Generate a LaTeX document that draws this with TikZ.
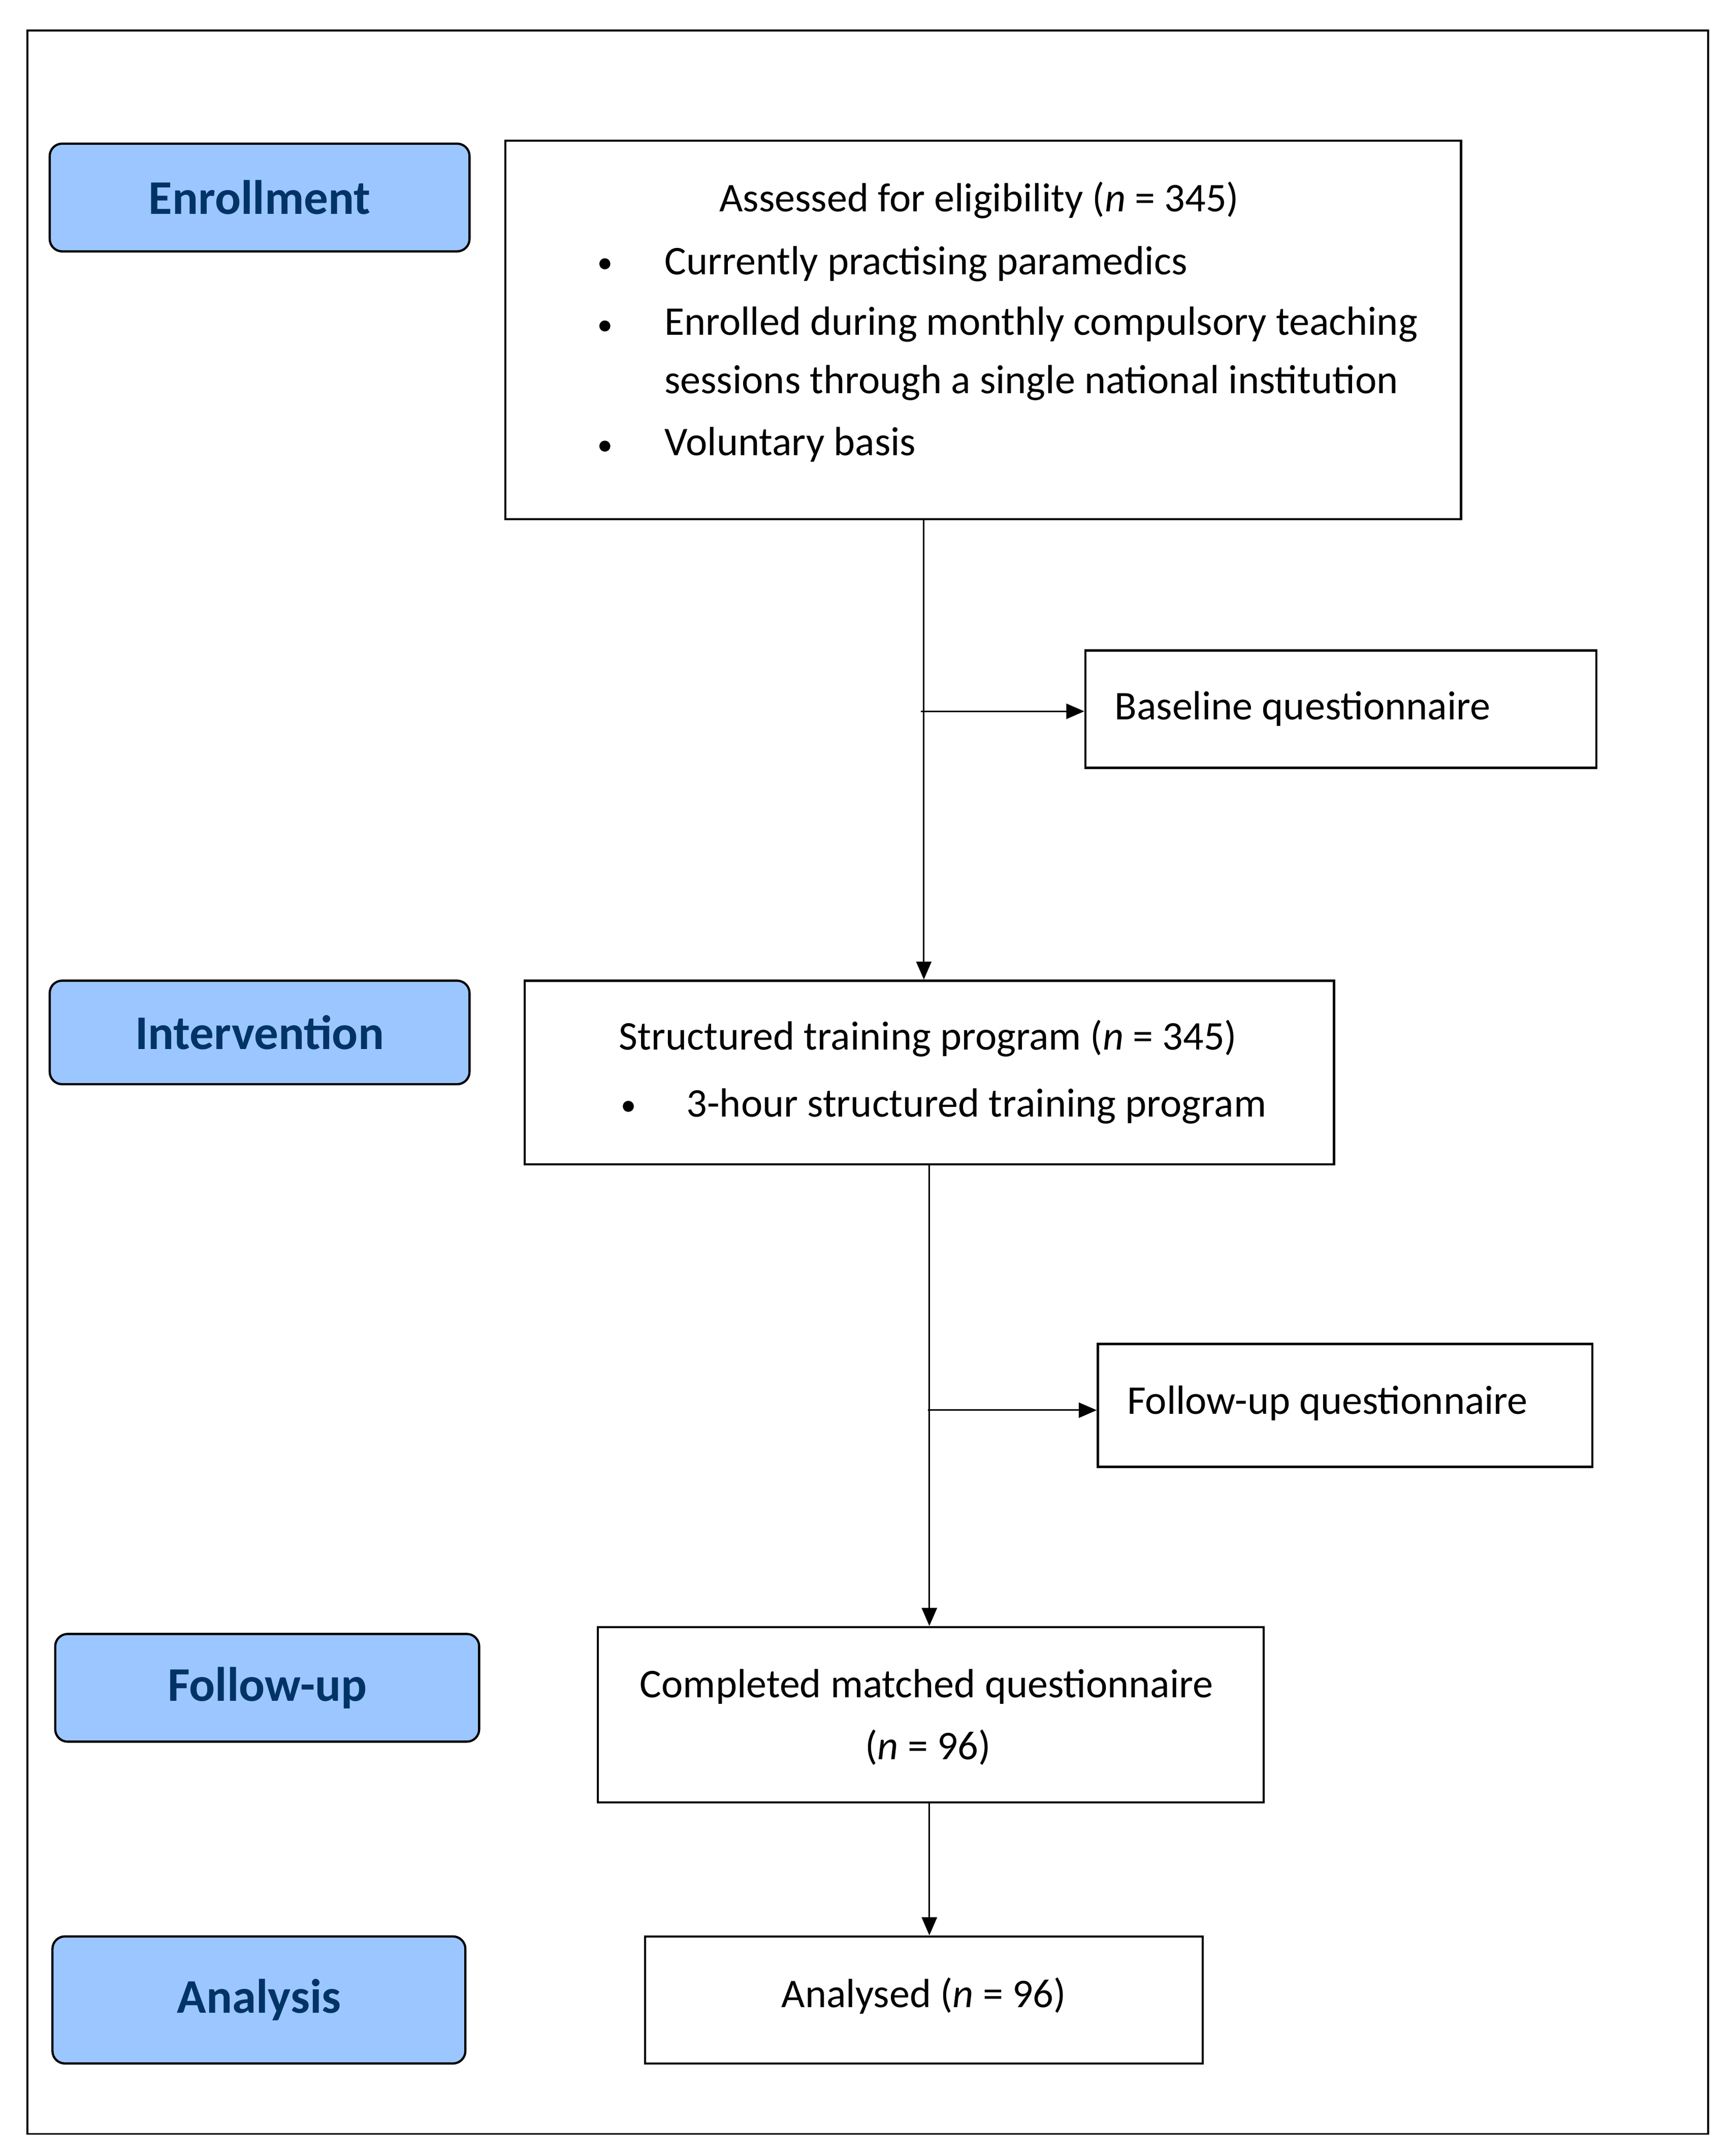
\documentclass[tikz,border=0pt]{standalone}
\usepackage{fontspec}
\setmainfont{Carlito}
\usetikzlibrary{arrows.meta}
\definecolor{lblfill}{HTML}{9CC6FF}
\definecolor{lbltext}{HTML}{003466}
\tikzset{
  box/.style={draw, line width=1.6pt, rectangle, inner sep=0pt},
  lbl/.style={draw, line width=1.6pt, rounded corners=9pt, fill=lblfill, inner sep=0pt,
    font=\fontsize{35}{42}\selectfont\bfseries, text=lbltext},
  txt/.style={font=\fontsize{29.5}{35}\selectfont, inner sep=0pt},
  bul/.style={circle, fill=black, inner sep=0pt, minimum size=8pt},
  arr/.style={line width=1.1pt, -{Triangle[length=13pt,width=11pt]}},
}
\begin{document}
\begin{tikzpicture}[x=1pt,y=-1pt]
\useasboundingbox (0,0) rectangle (1254,1561);
\node[draw, line width=1.4pt, minimum width=1217pt, minimum height=1523pt, inner sep=0pt] (frame) at (628.5,783.5) {};

% labels
\node[lbl, minimum width=304pt, minimum height=78pt] (lenr) at (188,143) {Enrollment};
\node[lbl, minimum width=304pt, minimum height=75pt] (lint) at (188,747.5) {Intervention};
\node[lbl, minimum width=307pt, minimum height=78pt] (lfol) at (193.5,1222) {Follow-up};
\node[lbl, minimum width=299pt, minimum height=92pt] (lana) at (187.5,1448) {Analysis};

% boxes
\node[box, minimum width=692pt, minimum height=274pt] (enr) at (712,239) {};
\node[box, minimum width=370pt, minimum height=85pt] (base) at (971,513.5) {};
\node[box, minimum width=586pt, minimum height=133pt] (struct) at (673,776.5) {};
\node[box, minimum width=358pt, minimum height=89pt] (fq) at (974,1017.5) {};
\node[box, minimum width=482pt, minimum height=127pt] (comp) at (674,1241.5) {};
\node[box, minimum width=404pt, minimum height=92pt] (ana) at (669,1448) {};

% texts
\node[txt] (t1) at (709,145) {Assessed for eligibility (\textit{n} = 345)};
\node[bul] (b1) at (438,191) {};
\node[txt, anchor=west] (t2) at (481,191) {Currently practising paramedics};
\node[bul] (b2) at (438,236) {};
\node[txt, anchor=west] (t3) at (481,235) {Enrolled during monthly compulsory teaching};
\node[txt, anchor=west] (t4) at (481,277) {sessions through a single national institution};
\node[bul] (b3) at (438,323) {};
\node[txt, anchor=west] (t5) at (481,322) {Voluntary basis};

\node[txt, anchor=west] (t6) at (807,513) {Baseline questionnaire};

\node[txt] (t7) at (672,752) {Structured training program (\textit{n} = 345)};
\node[bul] (b4) at (455,801) {};
\node[txt, anchor=west] (t8) at (497,801) {3-hour structured training program};

\node[txt, anchor=west] (t9) at (816,1016) {Follow-up questionnaire};

\node[txt] (t10) at (671,1221) {Completed matched questionnaire};
\node[txt] (t11) at (672,1265) {(\textit{n} = 96)};

\node[txt] (t12) at (669,1445) {Analysed (\textit{n} = 96)};

% connectors
\coordinate (c1) at (669,0);
\coordinate (c2) at (673,0);
\coordinate (j1) at (667,515);
\coordinate (j2) at (672,1021);
\draw[arr] (enr.south -| c1) -- (struct.north -| c1);
\draw[arr] (j1) -- (base.west |- j1);
\draw[arr] (struct.south -| c2) -- (comp.north -| c2);
\draw[arr] (j2) -- (fq.west |- j2);
\draw[arr] (comp.south -| c2) -- (ana.north -| c2);
\end{tikzpicture}
\end{document}
